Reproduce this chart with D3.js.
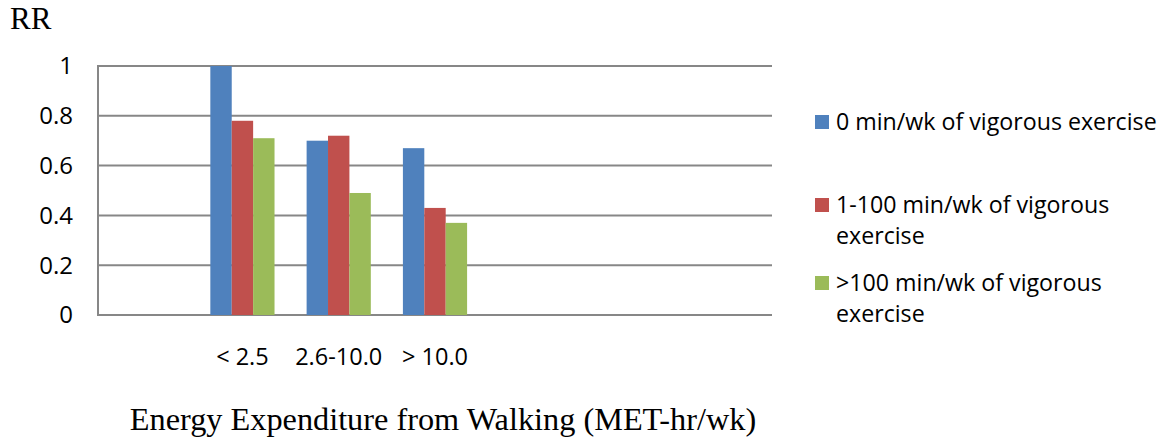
<!DOCTYPE html>
<html><head><meta charset="utf-8">
<script src="https://cdn.jsdelivr.net/npm/d3@7"></script>
<style>body{margin:0;background:#fff}</style>
</head><body>
<svg id="c" width="1170" height="439"></svg>
<script>
const categories = ["", "< 2.5", "2.6-10.0", "> 10.0", "", "", ""];
const seriesNames = ["0 min/wk of vigorous exercise", "1-100 min/wk of vigorous exercise", ">100 min/wk of vigorous exercise"];
const series0 = [null, 1.00, 0.70, 0.67, null, null, null];
const series1 = [null, 0.78, 0.72, 0.43, null, null, null];
const series2 = [null, 0.71, 0.49, 0.37, null, null, null];
const yTicks = [0, 0.2, 0.4, 0.6, 0.8, 1];
const colors = ["#4F81BD", "#C0504D", "#9BBB59"];
const legendLines = [["0 min/wk of vigorous exercise"], ["1-100 min/wk of vigorous", "exercise"], [">100 min/wk of vigorous", "exercise"]];

const svg = d3.select("#c");
const L = 98, R = 772, T = 66, B = 315;
const keys = categories.map((c, i) => "k" + i);
const x = d3.scaleBand().domain(keys).range([L, R]).paddingInner(1/3).paddingOuter(1/6);
const y = d3.scaleLinear().domain([0, 1]).range([B, T]);
const x1 = d3.scaleBand().domain([0, 1, 2]).range([0, x.bandwidth()]);
const sans = "'Open Sans', Lato, sans-serif";
const serif = "'Liberation Serif', 'Times New Roman', serif";

// gridlines
svg.append("g").selectAll("line").data(yTicks).join("line")
  .attr("x1", L).attr("x2", R).attr("y1", d => y(d)).attr("y2", d => y(d))
  .attr("stroke", "#878787").attr("stroke-width", 2);
svg.append("line").attr("x1", L).attr("x2", L).attr("y1", T - 1).attr("y2", B + 1)
  .attr("stroke", "#878787").attr("stroke-width", 2);

// y labels
svg.append("g").selectAll("text").data(yTicks).join("text")
  .attr("x", 73).attr("y", d => y(d)).attr("dy", "0.35em").attr("text-anchor", "end")
  .attr("font-family", sans).attr("font-size", 24).attr("fill", "#000").text(d => d3.format("~g")(d));

// bars
const allSeries = [series0, series1, series2];
allSeries.forEach((s, si) => {
  svg.append("g").selectAll("rect").data(s.map((v, i) => ({v, k: keys[i]})).filter(d => d.v != null)).join("rect")
    .attr("x", d => x(d.k) + x1(si)).attr("width", x1.bandwidth())
    .attr("y", d => y(d.v)).attr("height", d => y(0) - y(d.v))
    .attr("fill", colors[si]);
});

// x labels
svg.append("g").selectAll("text").data(categories).join("text")
  .attr("x", (d, i) => x(keys[i]) + x.bandwidth() / 2).attr("y", 365).attr("text-anchor", "middle")
  .attr("font-family", sans).attr("font-size", 23.5).attr("fill", "#000").text(d => d);

// titles
svg.append("text").attr("x", 10).attr("y", 29).attr("font-family", serif)
  .attr("font-size", 31).text("RR");
svg.append("text").attr("x", 443).attr("y", 430).attr("text-anchor", "middle")
  .attr("font-family", serif).attr("font-size", 32.3)
  .text("Energy Expenditure from Walking (MET-hr/wk)");

// legend
const legY = [122, 205, 283];
legendLines.forEach((lines, i) => {
  const g = svg.append("g");
  g.append("rect").attr("x", 815).attr("y", legY[i] - 7).attr("width", 14).attr("height", 14).attr("fill", colors[i]);
  lines.forEach((t, j) => {
    g.append("text").attr("x", 836).attr("y", legY[i] + j * 31).attr("dy", "0.35em")
      .attr("font-family", sans).attr("font-size", 23.2).attr("fill", "#000").text(t);
  });
});
</script>
</body></html>
